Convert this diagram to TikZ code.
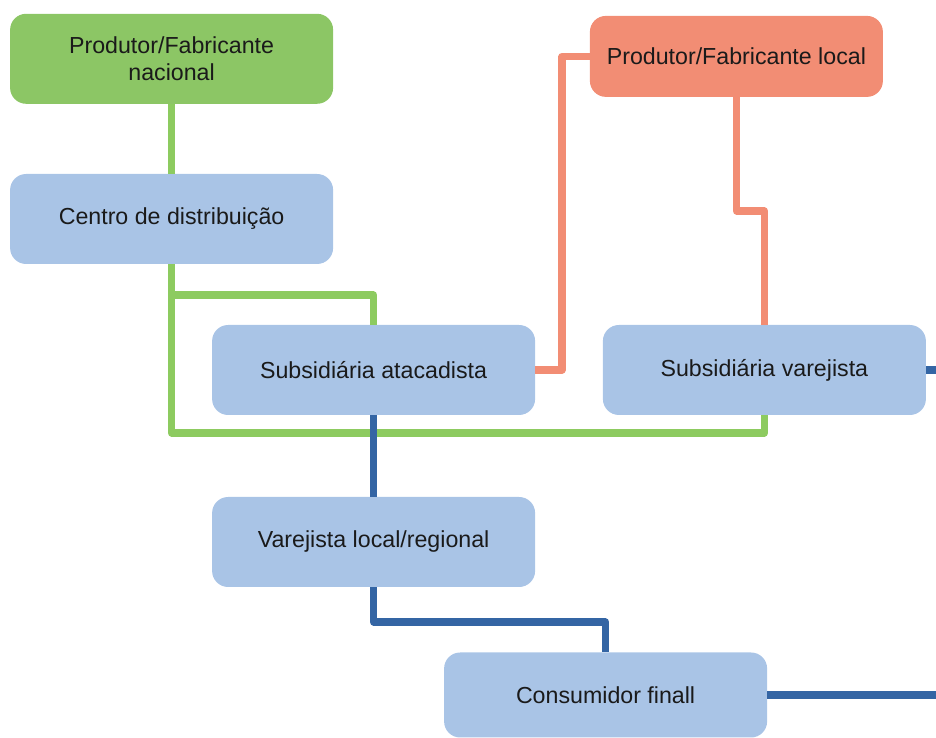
\documentclass[tikz,border=0pt]{standalone}
\usepackage{fontspec}
\setmainfont{Liberation Sans}
\usetikzlibrary{positioning}
\definecolor{boxblue}{RGB}{169,196,230}
\definecolor{boxgreen}{RGB}{140,198,101}
\definecolor{boxsalmon}{RGB}{242,141,116}
\definecolor{linegreen}{RGB}{141,203,96}
\definecolor{lineblue}{RGB}{52,101,164}
\definecolor{textdark}{RGB}{26,26,26}
\tikzset{
    chanbox/.style={rectangle, rounded corners=0.4cm, fill=boxblue, text=textdark, font=\fontsize{16.5}{19.5}\selectfont, align=center, minimum width=8.075cm, minimum height=2.25cm},
    natbox/.style={chanbox, fill=boxgreen},
    locbox/.style={chanbox, fill=boxsalmon, minimum width=7.325cm, minimum height=2.025cm},
    link/.style={line width=5pt, line join=round},
    greenLink/.style={link, draw=linegreen},
    salmonLink/.style={link, draw=boxsalmon},
    blueLink/.style={link, draw=lineblue}
}

\begin{document}
\begin{tikzpicture}

\useasboundingbox (0,0) rectangle (23.4,18.45);

% producers
\node[natbox] (nat) at (4.29,16.98) {Produtor/Fabricante\\nacional};
\node[locbox] (loc) at (18.41,17.04) {Produtor/Fabricante local};

% distribution
\node[chanbox] (cd) at (4.29,12.975) {Centro de distribuição};
\node[chanbox] (wsub) at (9.34,9.2) {Subsidiária atacadista};
\node[chanbox] (rsub) at (19.11,9.2) {Subsidiária varejista};
\node[chanbox] (reg) at (9.34,4.9) {Varejista local/regional};
\node[chanbox, minimum height=2.125cm] (cons) at (15.14,1.075) {Consumidor finall};

% bends and right edge
\coordinate (gbranch) at (4.29,11.075);
\coordinate (gbot) at (4.29,7.625);
\coordinate (skink) at (14.05,17.04);
\coordinate (sjog) at (19.11,13.175);
\coordinate (bmid) at (15.14,2.9);
\coordinate (edge) at (23.4,0);

% green lines
\draw[greenLink] (nat) -- (cd);
\draw[greenLink] (cd.south) -- (gbot) -| (rsub.south);
\draw[greenLink] (gbranch) -| (wsub.north);

% salmon lines
\draw[salmonLink] (wsub.east) -| (skink) -- (loc.west);
\draw[salmonLink] (loc.south) |- (sjog) -- (rsub.north);

% blue lines
\draw[blueLink] (wsub) -- (reg);
\draw[blueLink] (reg.south) |- (bmid) -- (cons.north);
\draw[blueLink] (cons.east) -- (cons.east -| edge);
\draw[blueLink] (rsub.east) -- (rsub.east -| edge);

\end{tikzpicture}
\end{document}
